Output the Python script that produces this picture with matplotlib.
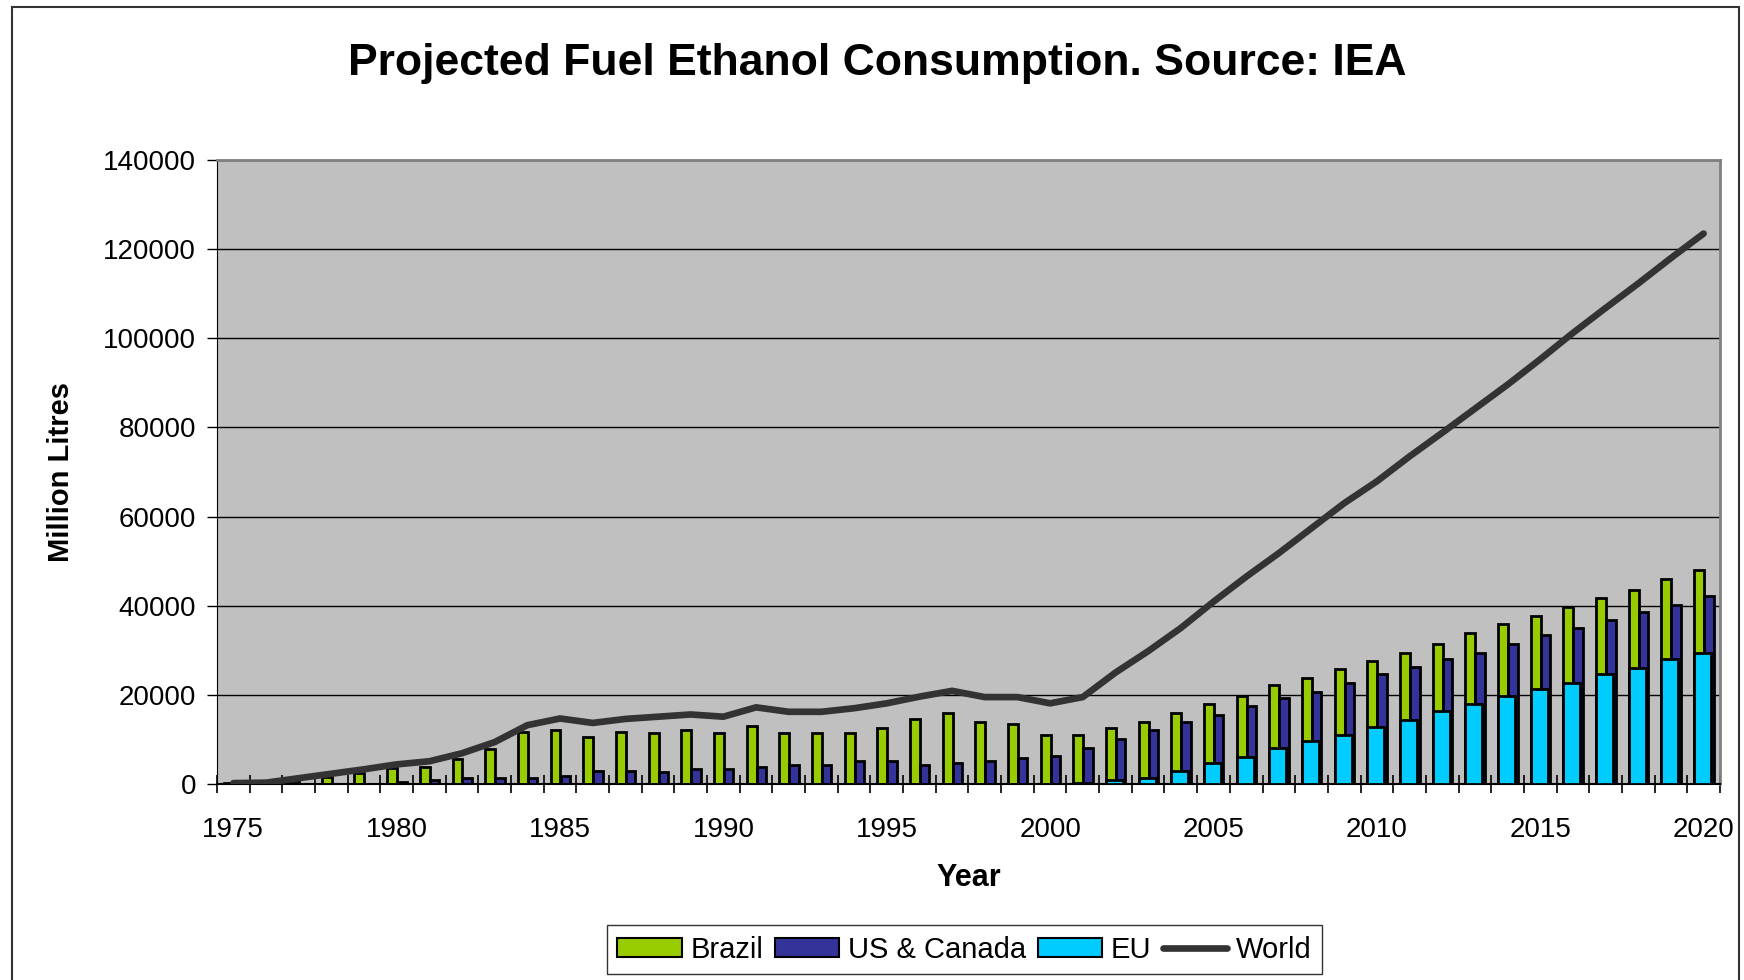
import numpy as np
import matplotlib
matplotlib.use("Agg")
import matplotlib.pyplot as plt
from matplotlib.patches import Rectangle, Patch
from matplotlib.lines import Line2D

plt.rcParams['font.family'] = ['Liberation Sans', 'DejaVu Sans']

# Consumption in million litres, 1975-2020
years = list(range(1975, 2021))
brazil = [300, 400, 700, 1600, 2500, 3700, 3900, 5700, 7800, 11600,
          12100, 10600, 11600, 11500, 12100, 11500, 13000, 11500, 11500, 11500,
          12500, 14500, 15900, 14000, 13500, 11100, 11100, 12500, 14000, 15900,
          17900, 19800, 22300, 23800, 25700, 27600, 29500, 31500, 33900, 35900,
          37800, 39800, 41700, 43600, 46100, 48000]
us_canada = [0, 0, 0, 0, 0, 400, 1000, 1400, 1400, 1400,
             1900, 2900, 2900, 2800, 3300, 3300, 3800, 4300, 4300, 5200,
             5200, 4300, 4800, 5200, 5800, 6300, 8100, 10100, 12100, 14000,
             15500, 17400, 19400, 20700, 22700, 24700, 26200, 28000, 29500, 31500,
             33400, 34900, 36900, 38700, 40200, 42200]
eu = [0, 0, 0, 0, 0, 0, 0, 0, 0, 0,
      0, 0, 0, 0, 0, 0, 0, 0, 0, 0,
      0, 0, 0, 0, 0, 0, 300, 900, 1350, 2850,
      4800, 6100, 8100, 9600, 11100, 12900, 14400, 16400, 17900, 19800,
      21300, 22700, 24700, 26000, 28000, 29500]
world = [200, 300, 1300, 2300, 3300, 4400, 5100, 6900, 9400, 13200,
         14700, 13700, 14600, 15100, 15600, 15100, 17200, 16200, 16200, 17000,
         18100, 19600, 20900, 19500, 19500, 18100, 19500, 25000, 29800, 35000,
         40900, 46500, 51800, 57400, 63000, 67900, 73500, 78800, 84200, 89600,
         95300, 101200, 106800, 112300, 118000, 123500]

C_BRAZIL = '#99CC00'
C_US = '#333399'
C_EU = '#00CCFF'
C_WORLD = '#333333'

x = np.array(years, dtype=float)

fig = plt.figure(figsize=(17.44, 9.8), dpi=100)
ax = fig.add_axes([0.1244, 0.2, 0.8618, 0.6367])
ax.set_facecolor('#C0C0C0')

bar_kw = dict(edgecolor='black', linewidth=2.0)
ax.bar(x - 0.138, brazil, width=0.305, color=C_BRAZIL, zorder=3, **bar_kw)
ax.bar(x + 0.16, us_canada, width=0.29, color=C_US, zorder=3, **bar_kw)
ax.bar(x - 0.03, eu, width=0.52, color=C_EU, zorder=4, **bar_kw)
ax.plot(x, world, color=C_WORLD, linewidth=4.8, solid_capstyle='round', zorder=5)

ax.set_xlim(1974.5, 2020.5)
ax.set_ylim(0, 140000)
ax.set_yticks(np.arange(0, 140001, 20000))
ax.yaxis.grid(True, color='black', linewidth=1.0, zorder=1)
ax.set_axisbelow(True)

ax.set_xticks(np.arange(1975, 2021, 5))
ax.set_xticks(np.arange(1974.5, 2021, 1), minor=True)
ax.tick_params(axis='x', which='major', length=0, labelsize=20, pad=24)
ax.tick_params(axis='x', which='minor', direction='inout', length=13, width=1.2)
ax.tick_params(axis='y', direction='out', length=7, width=1.0, labelsize=20, pad=8)

for side in ('top', 'right'):
    ax.spines[side].set_color('#808080')
    ax.spines[side].set_linewidth(2.0)
ax.spines['left'].set_color('black')
ax.spines['bottom'].set_color('black')
ax.spines['bottom'].set_linewidth(1.5)

ax.set_xlabel('Year', fontsize=22, fontweight='bold', labelpad=14)
ax.set_ylabel('Million Litres', fontsize=21, fontweight='bold', labelpad=20)
fig.text(0.503, 0.935, 'Projected Fuel Ethanol Consumption. Source: IEA',
         ha='center', va='center', fontsize=32, fontweight='bold')

handles = [
    Patch(facecolor=C_BRAZIL, edgecolor='black', linewidth=1.5),
    Patch(facecolor=C_US, edgecolor='black', linewidth=1.5),
    Patch(facecolor=C_EU, edgecolor='black', linewidth=1.5),
    Line2D([], [], color=C_WORLD, linewidth=4.8, solid_capstyle='round'),
]
leg = fig.legend(handles, ['Brazil', 'US & Canada', 'EU', 'World'],
                 loc='center', bbox_to_anchor=(0.553, 0.031), ncol=4,
                 fontsize=21, frameon=True, fancybox=False, handlelength=2.2,
                 handleheight=0.6, handletextpad=0.3, columnspacing=0.4,
                 borderpad=0.35)
leg.get_frame().set_edgecolor('black')
leg.get_frame().set_linewidth(1.0)

# outer chart frame
fig.add_artist(Rectangle((0.0069, -0.05), 0.9902, 1.0429, transform=fig.transFigure,
                         fill=False, edgecolor='#333333', linewidth=1.5))

fig.savefig('out.png', dpi=100)
